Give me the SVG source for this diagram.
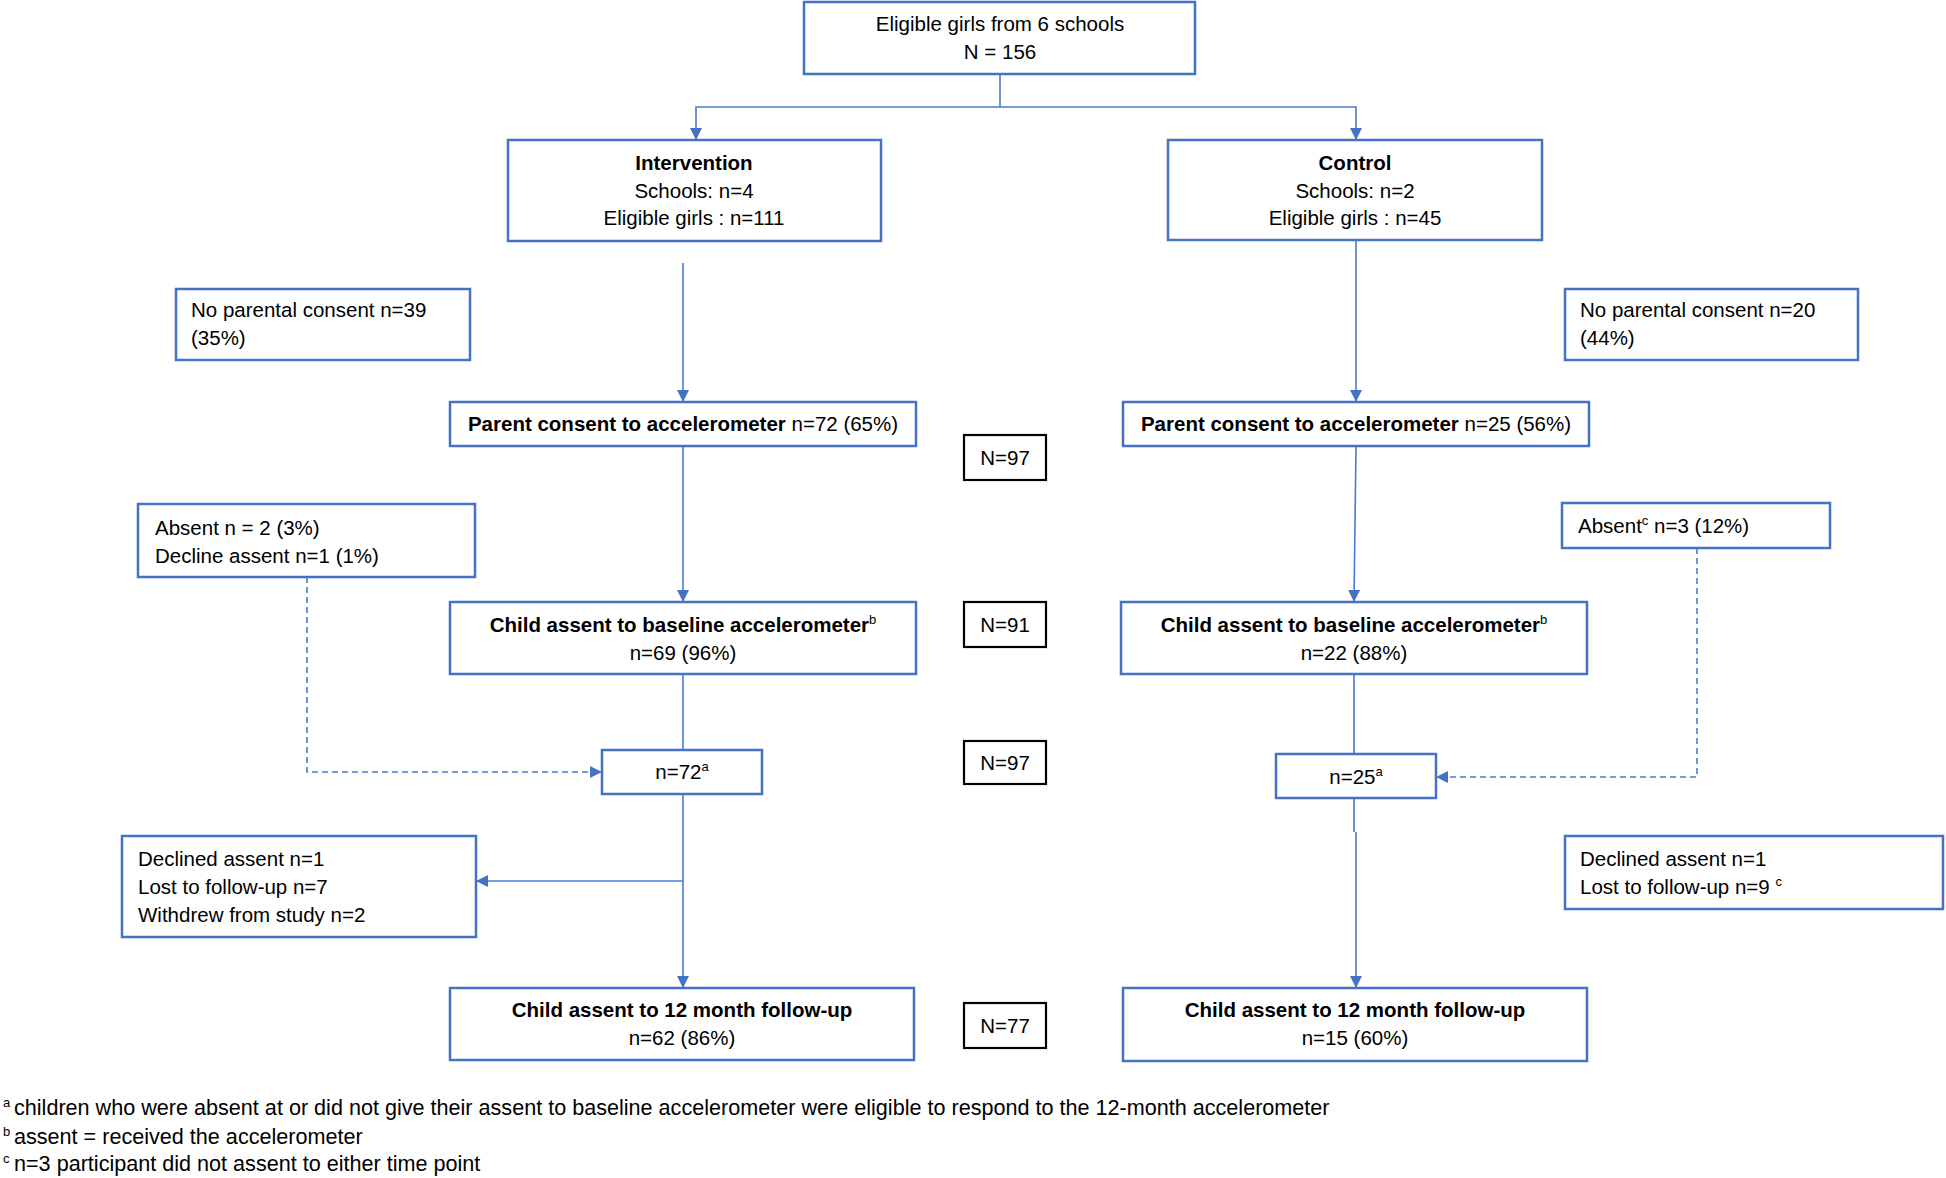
<svg xmlns="http://www.w3.org/2000/svg" width="1946" height="1178" viewBox="0 0 1946 1178">
<style>
text{font-family:"Liberation Sans",Arial,sans-serif;font-size:20.5px;fill:#000}
.c{text-anchor:middle}
.b{font-weight:bold}
.box{fill:#fff;stroke:#4472C4;stroke-width:2.5}
.nbox{fill:#fff;stroke:#000;stroke-width:2.2}
.ln{fill:none;stroke:#4A7BD0;stroke-width:1.6}
.ds{fill:none;stroke:#4A7BD0;stroke-width:1.6;stroke-dasharray:6 4}
.sup{font-size:13px}
.fn{font-size:21.6px}
</style>
<defs>
<marker id="arr" viewBox="0 0 12 12" refX="12" refY="6" markerWidth="12" markerHeight="12" orient="auto" markerUnits="userSpaceOnUse">
<path d="M0,0 L12,6 L0,12 z" fill="#4472C4"/>
</marker>
</defs>
<rect width="1946" height="1178" fill="#fff"/>
<g id="connectors">
<path class="ln" d="M1000,74 V107"/>
<path class="ln" d="M1000,107 H696 V140" marker-end="url(#arr)"/>
<path class="ln" d="M1000,107 H1356 V140" marker-end="url(#arr)"/>
<path class="ln" d="M683,263 V402" marker-end="url(#arr)"/>
<path class="ln" d="M1356,240 V402" marker-end="url(#arr)"/>
<path class="ln" d="M683,446 V602" marker-end="url(#arr)"/>
<path class="ln" d="M1356,446 L1354,602" marker-end="url(#arr)"/>
<path class="ln" d="M683,674 V750"/>
<path class="ln" d="M1354,674 V754"/>
<path class="ds" d="M307,577 V772 H602" marker-end="url(#arr)"/>
<path class="ds" d="M1697,548 V777 H1436" marker-end="url(#arr)"/>
<path class="ln" d="M683,794 V988" marker-end="url(#arr)"/>
<path class="ln" d="M683,881 H476" marker-end="url(#arr)"/>
<path class="ln" d="M1354,798 V832 M1356,832 V988" marker-end="url(#arr)"/>
</g>
<g id="top">
<rect class="box" x="804" y="2" width="391" height="72"/>
<text class="c" x="1000" y="31">Eligible girls from 6 schools</text>
<text class="c" x="1000" y="59">N = 156</text>
</g>
<g id="intervention">
<rect class="box" x="508" y="140" width="373" height="101"/>
<text class="c b" x="694" y="170">Intervention</text>
<text class="c" x="694" y="198">Schools: n=4</text>
<text class="c" x="694" y="225">Eligible girls : n=111</text>
</g>
<g id="control">
<rect class="box" x="1168" y="140" width="374" height="100"/>
<text class="c b" x="1355" y="170">Control</text>
<text class="c" x="1355" y="198">Schools: n=2</text>
<text class="c" x="1355" y="225">Eligible girls : n=45</text>
</g>
<g id="noconsent-left">
<rect class="box" x="176" y="289" width="294" height="71"/>
<text x="191" y="317">No parental consent n=39</text>
<text x="191" y="345">(35%)</text>
</g>
<g id="noconsent-right">
<rect class="box" x="1565" y="289" width="293" height="71"/>
<text x="1580" y="317">No parental consent n=20</text>
<text x="1580" y="345">(44%)</text>
</g>
<g id="parent-left">
<rect class="box" x="450" y="402" width="466" height="44"/>
<text class="c" x="683" y="431"><tspan class="b">Parent consent to accelerometer</tspan> n=72 (65%)</text>
</g>
<g id="parent-right">
<rect class="box" x="1123" y="402" width="466" height="44"/>
<text class="c" x="1356" y="431"><tspan class="b">Parent consent to accelerometer</tspan> n=25 (56%)</text>
</g>
<g id="N97a">
<rect class="nbox" x="964" y="435" width="82" height="45"/>
<text class="c" x="1005" y="465">N=97</text>
</g>
<g id="absent-left">
<rect class="box" x="138" y="504" width="337" height="73"/>
<text x="155" y="535">Absent n = 2 (3%)</text>
<text x="155" y="563">Decline assent n=1 (1%)</text>
</g>
<g id="absent-right">
<rect class="box" x="1562" y="503" width="268" height="45"/>
<text x="1578" y="533">Absent<tspan class="sup" dy="-8">c</tspan><tspan dy="8"> n=3 (12%)</tspan></text>
</g>
<g id="child-left">
<rect class="box" x="450" y="602" width="466" height="72"/>
<text class="c b" x="683" y="632">Child assent to baseline accelerometer<tspan class="sup" font-weight="normal" dy="-8">b</tspan></text>
<text class="c" x="683" y="660">n=69 (96%)</text>
</g>
<g id="child-right">
<rect class="box" x="1121" y="602" width="466" height="72"/>
<text class="c b" x="1354" y="632">Child assent to baseline accelerometer<tspan class="sup" font-weight="normal" dy="-8">b</tspan></text>
<text class="c" x="1354" y="660">n=22 (88%)</text>
</g>
<g id="N91">
<rect class="nbox" x="964" y="602" width="82" height="45"/>
<text class="c" x="1005" y="632">N=91</text>
</g>
<g id="n72">
<rect class="box" x="602" y="750" width="160" height="44"/>
<text class="c" x="682" y="779">n=72<tspan class="sup" dy="-8">a</tspan></text>
</g>
<g id="n25">
<rect class="box" x="1276" y="754" width="160" height="44"/>
<text class="c" x="1356" y="784">n=25<tspan class="sup" dy="-8">a</tspan></text>
</g>
<g id="N97b">
<rect class="nbox" x="964" y="741" width="82" height="43"/>
<text class="c" x="1005" y="770">N=97</text>
</g>
<g id="declined-left">
<rect class="box" x="122" y="836" width="354" height="101"/>
<text x="138" y="866">Declined assent n=1</text>
<text x="138" y="894">Lost to follow-up n=7</text>
<text x="138" y="922">Withdrew from study n=2</text>
</g>
<g id="declined-right">
<rect class="box" x="1565" y="836" width="378" height="73"/>
<text x="1580" y="866">Declined assent n=1</text>
<text x="1580" y="894">Lost to follow-up n=9 <tspan class="sup" dy="-8">c</tspan></text>
</g>
<g id="follow-left">
<rect class="box" x="450" y="988" width="464" height="72"/>
<text class="c b" x="682" y="1017">Child assent to 12 month follow-up</text>
<text class="c" x="682" y="1045">n=62 (86%)</text>
</g>
<g id="follow-right">
<rect class="box" x="1123" y="988" width="464" height="73"/>
<text class="c b" x="1355" y="1017">Child assent to 12 month follow-up</text>
<text class="c" x="1355" y="1045">n=15 (60%)</text>
</g>
<g id="N77">
<rect class="nbox" x="964" y="1003" width="82" height="45"/>
<text class="c" x="1005" y="1033">N=77</text>
</g>
<g id="footnotes">
<text class="sup" x="3" y="1107">a</text>
<text class="fn" x="14" y="1115">children who were absent at or did not give their assent to baseline accelerometer were eligible to respond to the 12-month accelerometer</text>
<text class="sup" x="3" y="1136">b</text>
<text class="fn" x="14" y="1144">assent = received the accelerometer</text>
<text class="sup" x="3" y="1163">c</text>
<text class="fn" x="14" y="1171">n=3 participant did not assent to either time point</text>
</g>
</svg>
